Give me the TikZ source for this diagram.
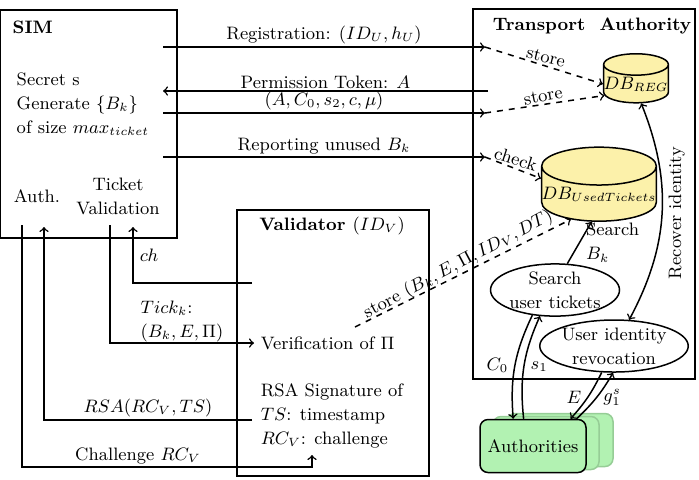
\documentclass[tikz,border=0pt]{standalone}
\usetikzlibrary{shapes.geometric}
\definecolor{dbyellow}{RGB}{252,241,170}
\definecolor{authgreen}{RGB}{178,242,178}
\definecolor{authedge}{RGB}{150,205,150}
\tikzset{every picture/.style={line width=0.75pt}}
\tikzset{
  dbcyl/.style={cylinder, shape border rotate=90, aspect=0.33, draw, fill=dbyellow, inner sep=0pt},
  oval/.style={ellipse, draw, align=center, inner sep=0pt},
  authbox/.style={draw, rounded corners=4pt, fill=authgreen, minimum width=53pt, minimum height=26.5pt},
  authcopy/.style={authbox, draw=authedge},
  msglabel/.style={above, inner sep=1pt},
  dbarrow/.style={->, dashed},
}

\begin{document}
\fontsize{9}{12}\selectfont
\begin{tikzpicture}[x=0.5pt,y=0.5pt,yscale=-1,xscale=1]
\useasboundingbox (0,0) rectangle (699,479);

%Shape: Rectangle
\draw (0,10) rectangle (177,238);
%Shape: Rectangle
\draw (473,9) rectangle (695,379);
%Shape: Rectangle
\draw (237,210) rectangle (429,476);

% Text Node
\node (simtitle) [anchor=west, font=\bfseries] at (6,27) {SIM};
% Text Node
\node (simtext) [anchor=west, align=left] at (10,104) {Secret s\\Generate $\{B_k\}$\\of size $max_{ticket}$};
% Text Node
\node (authlbl) at (37,196) {Auth.};
% Text Node
\node (tickval) [align=center] at (118,196) {Ticket\\Validation};
% Text Node
\node (tatitle) [font=\bfseries] at (592,26) {Transport\ \ Authority};
% Text Node
\node (valtitle) [font=\bfseries] at (332,226) {Validator $(ID_V)$};
% Text Node
\node (verif) [anchor=west] at (254,343) {Verification of $\Pi$};
% Text Node
\node (rsasig) [anchor=west, align=left] at (254,416) {RSA Signature of\\$TS$: timestamp\\$RC_V$: challenge};

%Shape: Can
\node (dbreg) [dbcyl, minimum width=31pt, minimum height=24.5pt] at (636,84) {$DB_{REG}$};
%Shape: Can
\node (dbused) [dbcyl, minimum width=55pt, minimum height=37pt] at (599,194) {$DB_{UsedTickets}$};
%Shape: Ellipse
\node (search) [oval, minimum width=63pt, minimum height=25.5pt] at (555,290) {Search\\user tickets};
%Shape: Ellipse
\node (revoc) [oval, minimum width=73pt, minimum height=26pt] at (614,346) {User identity\\revocation};
%Rounded Rect
\node (auth3) [authcopy] at (560,440) {};
\node (auth2) [authcopy] at (546,443) {};
\node (authorities) [authbox] at (533,446) {Authorities};

% end points of the messages
\coordinate (regs) at (163,47);
\coordinate (rege) at (485,47);
\coordinate (perms) at (488,91);
\coordinate (perme) at (163,91);
\coordinate (creds) at (163,113);
\coordinate (crede) at (485,113);
\coordinate (reps) at (163,157);
\coordinate (repe) at (485,157);
\coordinate (vstore) at (355,327);
\coordinate (simauthout) at (22,225);
\coordinate (simauthin) at (44,227);
\coordinate (simtvout) at (110,225);
\coordinate (simtvin) at (133,227);
\coordinate (chstart) at (252,283);
\coordinate (rsastart) at (252,420);
\coordinate (chalcorner) at (312,467);
\coordinate (chalend) at (312,455);

%Straight Lines
\draw [->] (regs) -- node [msglabel] {Registration: $(ID_U, h_U)$} (rege);
%Straight Lines
\draw [->] (perms) -- node [msglabel] {Permission Token: $A$} (perme);
%Straight Lines
\draw [->] (creds) -- node [msglabel] {$(A, C_0, s_2, c, \mu)$} (crede);
%Straight Lines
\draw [->] (reps) -- node [msglabel] {Reporting unused $B_k$} (repe);

%Dashed Lines (y axis is flipped, so the angles are given by hand)
\draw [dbarrow] (rege) -- node [rotate=-14, above, inner sep=1pt] {store} (dbreg.180);
\draw [dbarrow] (crede) -- node [rotate=11, above, inner sep=1pt] {store} (dbreg.200);
\draw [dbarrow] (repe) -- node [rotate=-18, above, inner sep=1pt] {check} (dbused.165);
\draw [dbarrow] (vstore) -- node [rotate=28, above, inner sep=0pt] {store $(B_k, E, \Pi, ID_V, DT)$} (dbused.222);

%Straight Lines
\draw [->] (search.65) -- node [right, align=left] {Search\\$B_k$} (dbused.255);
%Curve Lines
\draw [<->] (revoc.60) to [bend left=25] node [rotate=90, below] {Recover identity} (dbreg.285);
%Curve Lines
\draw [->] (search.228) to [bend left=15] node [left] {$C_0$} (authorities.126);
\draw [->] (authorities.109) to [bend right=15] node [right] {$s_1$} (search.240);
%Curve Lines
\draw [->] (revoc.245) to [bend right=8] node [left] {$E$} (authorities.36);
\draw [->] (authorities.32) to [bend left=8] node [right] {$g_1^s$} (revoc.268);

%Straight Lines
\draw [->] (chstart) -| node [pos=0.75, right] {$ch$} (simtvin);
\draw [->] (simtvout) |- node [pos=0.75, above, align=left, inner sep=0pt] {$Tick_k$:\\$(B_k, E, \Pi)$} (verif.west);
\draw [->] (rsastart) -| node [pos=0.25, above, inner sep=1pt] {$RSA(RC_V, TS)$} (simauthin);
\draw [->] (simauthout) |- node [pos=0.7, above, inner sep=1pt] {Challenge $RC_V$} (chalcorner) -- (chalend);

\end{tikzpicture}
\end{document}
